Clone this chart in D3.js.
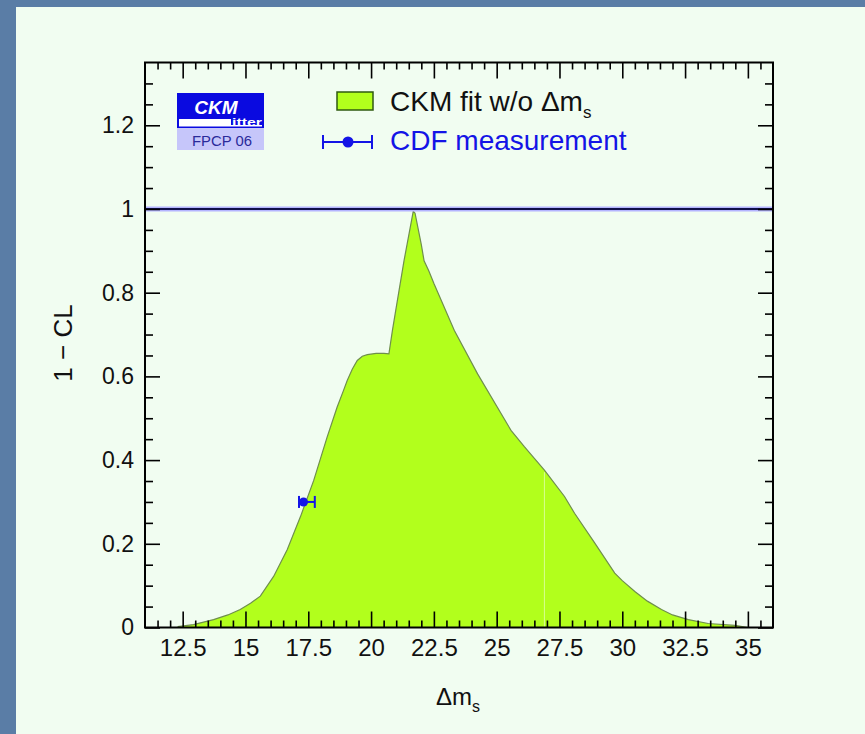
<!DOCTYPE html>
<html>
<head>
<meta charset="utf-8">
<script src="https://cdn.jsdelivr.net/npm/d3@7"></script>
<style>
  html, body { margin: 0; padding: 0; background: #5a7da6; }
  svg { display: block; }
</style>
</head>
<body>
<div id="chart"></div>
<script>
// Delta m_s scan
const dmValues = [12.3, 12.93, 13.73, 14.3, 14.79, 15.2, 15.59, 16.12, 16.66, 17.19, 17.72, 18.25,
  18.65, 18.9, 19.05, 19.25, 19.45, 19.65, 19.85, 20.2, 20.51, 20.71, 20.85, 20.98, 21.31, 21.68,
  21.75, 22.0, 22.11, 22.3, 22.51, 23.31, 24.24, 25.57, 26.1, 26.9, 27.7, 28.1, 28.9, 29.7, 30.0,
  30.5, 31.0, 31.56, 32.0, 32.63, 33.42, 34.49, 35.0];
const clValues = [0.002, 0.007, 0.019, 0.03, 0.043, 0.058, 0.075, 0.122, 0.186, 0.265, 0.352, 0.455,
  0.527, 0.566, 0.59, 0.617, 0.638, 0.648, 0.652, 0.655, 0.655, 0.654, 0.71, 0.757, 0.876, 0.995,
  0.99, 0.915, 0.876, 0.852, 0.821, 0.71, 0.606, 0.471, 0.432, 0.376, 0.313, 0.273, 0.202, 0.13, 0.112,
  0.086, 0.063, 0.043, 0.03, 0.019, 0.0095, 0.005, 0.0];

// CDF measurement: value, lower / upper error, plotted at 1-CL = 0.3
const cdfPoint = [17.31, 0.3];
const cdfErrors = [0.18, 0.45];

const xTicks = [12.5, 15, 17.5, 20, 22.5, 25, 27.5, 30, 32.5, 35];
const yTicks = [0, 0.2, 0.4, 0.6, 0.8, 1, 1.2];
const xDomain = [11, 36];
const yDomain = [0, 1.35];

const legendLabels = ['CKM fit w/o \u0394m', 'CDF measurement'];

const width = 865;
const height = 734;
const plot = { left: 145, right: 773, top: 62.5, bottom: 627.5 };
const font = "'Liberation Sans', Arial, sans-serif";

const svg = d3.select('#chart')
  .append('svg')
  .attr('width', width)
  .attr('height', height);

// light slide panel
svg.append('rect')
  .attr('x', 16).attr('y', 7)
  .attr('width', width).attr('height', height)
  .attr('fill', '#f1fdf1');

const x = d3.scaleLinear().domain(xDomain).range([plot.left, plot.right]);
const y = d3.scaleLinear().domain(yDomain).range([plot.bottom, plot.top]);

const points = dmValues.map((d, i) => ({ dm: d, cl: clValues[i] }));

// filled CL curve
const area = d3.area()
  .x(d => x(d.dm))
  .y0(y(0))
  .y1(d => y(d.cl));

const line = d3.line()
  .x(d => x(d.dm))
  .y(d => y(d.cl));

svg.append('path')
  .datum(points)
  .attr('d', area)
  .attr('fill', '#b2ff1c');

svg.append('path')
  .datum(points)
  .attr('d', line)
  .attr('fill', 'none')
  .attr('stroke', '#6f8f4c')
  .attr('stroke-width', 1.2);

// faint seam inside the fill
const seam = points.find(p => p.dm === 26.9);
svg.append('line')
  .attr('x1', x(seam.dm)).attr('x2', x(seam.dm))
  .attr('y1', y(0)).attr('y2', y(seam.cl) + 2)
  .attr('stroke', '#d8ff90')
  .attr('stroke-width', 1);

// 1-CL = 1 reference line
svg.append('line')
  .attr('x1', plot.left).attr('x2', plot.right)
  .attr('y1', y(1)).attr('y2', y(1))
  .attr('stroke', '#b4b4ff')
  .attr('stroke-width', 5);
svg.append('line')
  .attr('x1', plot.left).attr('x2', plot.right)
  .attr('y1', y(1)).attr('y2', y(1))
  .attr('stroke', '#10104a')
  .attr('stroke-width', 2);

/**
 * Draw one axis with major ticks (labels optional) and unlabelled minor ticks
 */
function drawAxis(axisFn, scale, transform, majors, minors, majorLen, minorLen, labels) {
  const g = svg.append('g').attr('transform', transform);

  g.call(axisFn(scale)
    .tickValues(minors)
    .tickSizeInner(-minorLen)
    .tickSizeOuter(0)
    .tickFormat(''));

  const major = svg.append('g').attr('transform', transform);
  major.call(axisFn(scale)
    .tickValues(majors)
    .tickSizeInner(-majorLen)
    .tickSizeOuter(0)
    .tickPadding(11)
    .tickFormat(labels ? d3.format('~g') : ''));

  [g, major].forEach(a => {
    a.select('.domain').remove();
    a.selectAll('line').attr('stroke', '#000').attr('stroke-width', 1.6);
    a.selectAll('text')
      .attr('fill', '#111')
      .style('font-family', font);
  });
  return major;
}

const xMinor = d3.range(11.5, 36, 0.5).filter(v => !xTicks.includes(v));
const yMinor = d3.range(0.05, 1.35, 0.05).map(v => +v.toFixed(2)).filter(v => !yTicks.includes(v));

const xAxis = drawAxis(d3.axisBottom, x, `translate(0,${plot.bottom})`, xTicks, xMinor, 16, 7, true);
xAxis.selectAll('text').style('font-size', '24px').attr('dy', '0.71em');
drawAxis(d3.axisTop, x, `translate(0,${plot.top})`, xTicks, xMinor, 16, 7, false);

const yAxis = drawAxis(d3.axisLeft, y, `translate(${plot.left},0)`, yTicks, yMinor, 15, 8, true);
yAxis.selectAll('text').style('font-size', '23px');
drawAxis(d3.axisRight, y, `translate(${plot.right},0)`, yTicks, yMinor, 15, 8, false);

// frame
svg.append('rect')
  .attr('x', plot.left).attr('y', plot.top)
  .attr('width', plot.right - plot.left)
  .attr('height', plot.bottom - plot.top)
  .attr('fill', 'none')
  .attr('stroke', '#000')
  .attr('stroke-width', 2);

// CDF point with asymmetric horizontal error
const blue = '#1414e6';
const cdf = svg.append('g');
const cy = y(cdfPoint[1]);
cdf.append('line')
  .attr('x1', x(cdfPoint[0] - cdfErrors[0])).attr('x2', x(cdfPoint[0] + cdfErrors[1]))
  .attr('y1', cy).attr('y2', cy)
  .attr('stroke', blue).attr('stroke-width', 2);
[cdfPoint[0] - cdfErrors[0], cdfPoint[0] + cdfErrors[1]].forEach(v => {
  cdf.append('line')
    .attr('x1', x(v)).attr('x2', x(v))
    .attr('y1', cy - 6).attr('y2', cy + 6)
    .attr('stroke', blue).attr('stroke-width', 2);
});
cdf.append('circle')
  .attr('cx', x(cdfPoint[0])).attr('cy', cy)
  .attr('r', 4.5)
  .attr('fill', blue);

// legend
const legend = svg.append('g');
legend.append('rect')
  .attr('x', 337).attr('y', 92)
  .attr('width', 36).attr('height', 18)
  .attr('fill', '#b2ff1c')
  .attr('stroke', '#2f5a10')
  .attr('stroke-width', 1.5);
const t1 = legend.append('text')
  .attr('x', 390).attr('y', 111)
  .style('font-family', font)
  .style('font-size', '28px')
  .attr('fill', '#111')
  .text(legendLabels[0]);
t1.append('tspan')
  .attr('dy', 7)
  .style('font-size', '17px')
  .text('s');

legend.append('line')
  .attr('x1', 323).attr('x2', 372)
  .attr('y1', 142).attr('y2', 142)
  .attr('stroke', blue).attr('stroke-width', 2);
[323, 372].forEach(v => {
  legend.append('line')
    .attr('x1', v).attr('x2', v)
    .attr('y1', 135).attr('y2', 149)
    .attr('stroke', blue).attr('stroke-width', 2);
});
legend.append('circle')
  .attr('cx', 348).attr('cy', 142).attr('r', 5.5)
  .attr('fill', blue);
legend.append('text')
  .attr('x', 390).attr('y', 150)
  .style('font-family', font)
  .style('font-size', '28px')
  .attr('fill', blue)
  .text(legendLabels[1]);

// CKMfitter logo
const logo = svg.append('g');
logo.append('rect')
  .attr('x', 177).attr('y', 93).attr('width', 87).attr('height', 35)
  .attr('fill', '#0a0ae0');
logo.append('text')
  .attr('x', 216).attr('y', 114)
  .attr('text-anchor', 'middle')
  .style('font-family', font)
  .style('font-size', '19px')
  .style('font-weight', 'bold')
  .style('font-style', 'italic')
  .attr('fill', '#fff')
  .text('CKM');
logo.append('rect')
  .attr('x', 179).attr('y', 119).attr('width', 52).attr('height', 7)
  .attr('fill', '#fff');
logo.append('rect')
  .attr('x', 179).attr('y', 125).attr('width', 83).attr('height', 1.5)
  .attr('fill', '#fff');
logo.append('text')
  .attr('x', 232).attr('y', 126)
  .style('font-family', font)
  .style('font-size', '11px')
  .style('font-weight', 'bold')
  .attr('textLength', 30)
  .attr('lengthAdjust', 'spacingAndGlyphs')
  .attr('fill', '#fff')
  .text('itter');
logo.append('rect')
  .attr('x', 177).attr('y', 128).attr('width', 87).attr('height', 22)
  .attr('fill', '#c6c6fa');
logo.append('text')
  .attr('x', 192).attr('y', 146)
  .style('font-family', font)
  .style('font-size', '14px')
  .attr('textLength', 60)
  .attr('lengthAdjust', 'spacingAndGlyphs')
  .attr('fill', '#2a2a9a')
  .text('FPCP 06');

// axis titles
const xTitle = svg.append('text')
  .attr('x', 436).attr('y', 705)
  .style('font-family', font)
  .style('font-size', '24px')
  .attr('fill', '#111')
  .text('\u0394m');
xTitle.append('tspan')
  .attr('dy', 7)
  .style('font-size', '16px')
  .text('s');

svg.append('text')
  .attr('transform', 'translate(72,343) rotate(-90)')
  .attr('text-anchor', 'middle')
  .style('font-family', font)
  .style('font-size', '26px')
  .attr('fill', '#111')
  .text('1 \u2212 CL');
</script>
</body>
</html>
